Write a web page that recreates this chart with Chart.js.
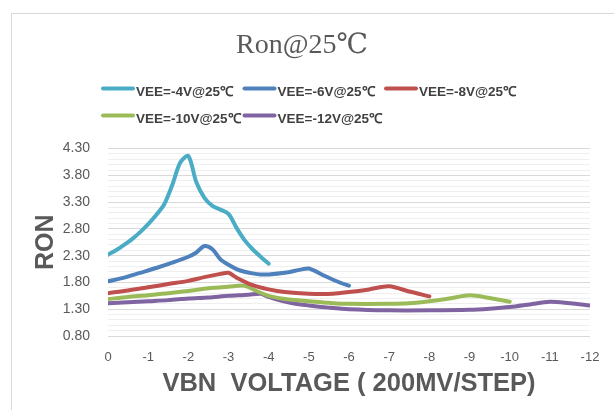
<!DOCTYPE html>
<html>
<head>
<meta charset="utf-8">
<script src="https://cdn.jsdelivr.net/npm/chart.js@4/dist/chart.umd.min.js"></script>
<style>
  html, body { margin: 0; padding: 0; background: #fff; }
  #wrap { width: 614px; height: 410px; position: relative; }
</style>
</head>
<body>
<div id="wrap"><canvas id="ron"></canvas></div>
<script>
// Ron vs VBN step, one series per VEE
const seriesLabels = ["VEE=-4V@25℃", "VEE=-6V@25℃", "VEE=-8V@25℃", "VEE=-10V@25℃", "VEE=-12V@25℃"];
const seriesColors = ["#4BACC6", "#4F81BD", "#C0504D", "#9BBB59", "#8064A2"];

const cyanX = [0, -0.2, -0.4, -0.6, -0.8, -1.0, -1.2, -1.4, -1.6, -1.8, -2.0, -2.2, -2.4, -2.6, -2.8, -3.0, -3.2, -3.4, -3.6, -3.8, -4.0];
const cyanY = [2.32, 2.40, 2.50, 2.61, 2.74, 2.89, 3.06, 3.26, 3.62, 4.04, 4.16, 3.67, 3.38, 3.23, 3.16, 3.08, 2.82, 2.59, 2.42, 2.28, 2.15];

const blueX = [0, -0.4, -0.8, -1.2, -1.6, -2.0, -2.2, -2.4, -2.6, -2.8, -3.0, -3.2, -3.4, -3.6, -3.8, -4.0, -4.4, -4.8, -5.0, -5.4, -5.8, -6.0];
const blueY = [1.82, 1.89, 1.98, 2.07, 2.17, 2.28, 2.36, 2.48, 2.42, 2.23, 2.13, 2.05, 2.00, 1.97, 1.95, 1.95, 1.98, 2.04, 2.06, 1.92, 1.79, 1.74];

const redX = [0, -0.5, -1, -1.5, -2, -2.4, -2.8, -3.0, -3.2, -3.6, -4.0, -4.4, -5.0, -5.6, -6.0, -6.5, -7.0, -7.5, -8.0];
const redY = [1.60, 1.65, 1.71, 1.77, 1.83, 1.90, 1.96, 1.98, 1.89, 1.75, 1.67, 1.62, 1.59, 1.59, 1.62, 1.67, 1.73, 1.63, 1.54];

const greenX = [0, -0.5, -1, -1.5, -2, -2.5, -3, -3.4, -3.7, -4, -4.5, -5, -5.5, -6, -7, -7.5, -8, -8.5, -9, -9.5, -10];
const greenY = [1.49, 1.53, 1.56, 1.60, 1.64, 1.69, 1.72, 1.74, 1.64, 1.55, 1.48, 1.45, 1.42, 1.40, 1.40, 1.41, 1.45, 1.50, 1.56, 1.51, 1.44];

const purpleX = [0, -0.5, -1, -1.5, -2, -2.5, -3, -3.5, -3.8, -4.0, -4.3, -4.6, -5, -5.5, -6, -7, -8, -9, -9.5, -10, -10.5, -11, -11.5, -12];
const purpleY = [1.41, 1.43, 1.45, 1.47, 1.50, 1.52, 1.55, 1.57, 1.59, 1.53, 1.46, 1.41, 1.37, 1.33, 1.30, 1.28, 1.28, 1.29, 1.31, 1.34, 1.39, 1.44, 1.41, 1.37];

const allX = [cyanX, blueX, redX, greenX, purpleX];
const allY = [cyanY, blueY, redY, greenY, purpleY];

const yMin = 0.8, yMax = 4.3, yMajor = 0.5, yMinor = 0.1;
const xMin = -12, xMax = 0;

const isMajor = (v) => {
  const k = (v - yMin) / yMajor;
  return Math.abs(k - Math.round(k)) < 1e-6;
};

const toPoints = (xs, ys) => xs.map((x, i) => ({ x: x, y: ys[i] }));

// white page with the thin grey frame of the original sheet
const frame = {
  id: "frame",
  beforeDraw(chart) {
    const { ctx, width, height } = chart;
    ctx.save();
    ctx.fillStyle = "#fff";
    ctx.fillRect(0, 0, width, height);
    ctx.strokeStyle = "#d9d9d9";
    ctx.lineWidth = 1;
    ctx.beginPath();
    ctx.moveTo(11.5, height);
    ctx.lineTo(11.5, 13.5);
    ctx.lineTo(width, 13.5);
    ctx.stroke();
    ctx.restore();
  },
};

// legend in fixed columns (3 + 2), like the Excel one
const gridLegend = {
  id: "gridLegend",
  afterDraw(chart) {
    const { ctx, chartArea } = chart;
    const colW = 141.5, lineW = 30;
    ctx.save();
    ctx.font = "bold 13.5px 'Liberation Sans', Arial, sans-serif";
    ctx.textBaseline = "middle";
    ctx.fillStyle = "#404040";
    chart.data.datasets.forEach((ds, i) => {
      const col = i % 3, row = Math.floor(i / 3);
      const x0 = chartArea.left - 5 + col * colW;
      const ty = chartArea.top - 56 + row * 27;
      ctx.strokeStyle = ds.borderColor;
      ctx.lineWidth = 4;
      ctx.lineCap = "round";
      ctx.beginPath();
      ctx.moveTo(x0, ty - 4);
      ctx.lineTo(x0 + lineW, ty - 4);
      ctx.stroke();
      ctx.fillText(ds.label, x0 + lineW + 3, ty);
    });
    ctx.restore();
  },
};

const ctx = document.getElementById("ron");
const ronChart = new Chart(ctx, {
  type: "line",
  data: {
    datasets: seriesLabels.map((label, i) => ({
      label: label,
      data: toPoints(allX[i], allY[i]),
      borderColor: seriesColors[i],
      backgroundColor: seriesColors[i],
      borderWidth: 4,
      pointRadius: 0,
      tension: 0.3,
      fill: false,
      borderCapStyle: "round",
      borderJoinStyle: "round",
    })),
  },
  options: {
    responsive: true,
    maintainAspectRatio: false,
    animation: false,
    layout: { padding: { left: 14, right: 24, top: 0, bottom: 0 } },
    plugins: {
      legend: { display: false },
      tooltip: { enabled: false },
      title: {
        display: true,
        text: "Ron@25℃",
        color: "#595959",
        font: { family: "'Liberation Serif', 'DejaVu Serif', serif", size: 28, weight: "normal" },
        padding: { top: 29, bottom: 86 },
      },
    },
    scales: {
      x: {
        type: "linear",
        min: xMin,
        max: xMax,
        reverse: true,
        afterFit(scale) { scale.height = 74; },
        grid: { display: false, drawTicks: false },
        border: { display: false },
        ticks: {
          stepSize: 1,
          autoSkip: false,
          maxRotation: 0,
          padding: 14,
          color: "#595959",
          font: { family: "'Liberation Sans', Arial, sans-serif", size: 13 },
          callback: (v) => String(v),
        },
        title: {
          display: true,
          text: "VBN  VOLTAGE ( 200MV/STEP)",
          color: "#595959",
          font: { family: "'Liberation Sans', Arial, sans-serif", size: 25.5, weight: "bold" },
          padding: { top: 0, bottom: 11 },
        },
      },
      y: {
        min: yMin,
        max: yMax,
        afterFit(scale) { scale.width = 94; },
        grid: {
          drawTicks: false,
          lineWidth: 1,
          color: (c) => (isMajor(c.tick.value) ? "#d9d9d9" : "#efefef"),
        },
        border: { display: false },
        ticks: {
          stepSize: yMinor,
          autoSkip: false,
          padding: 18,
          color: "#595959",
          font: { family: "'Liberation Sans', Arial, sans-serif", size: 14 },
          callback: (v) => (isMajor(v) ? v.toFixed(2) : ""),
        },
        title: {
          display: true,
          text: "RON",
          color: "#595959",
          font: { family: "'Liberation Sans', Arial, sans-serif", size: 25, weight: "bold" },
          padding: { top: 17, bottom: 0 },
        },
      },
    },
  },
  plugins: [frame, gridLegend],
});
</script>
</body>
</html>
